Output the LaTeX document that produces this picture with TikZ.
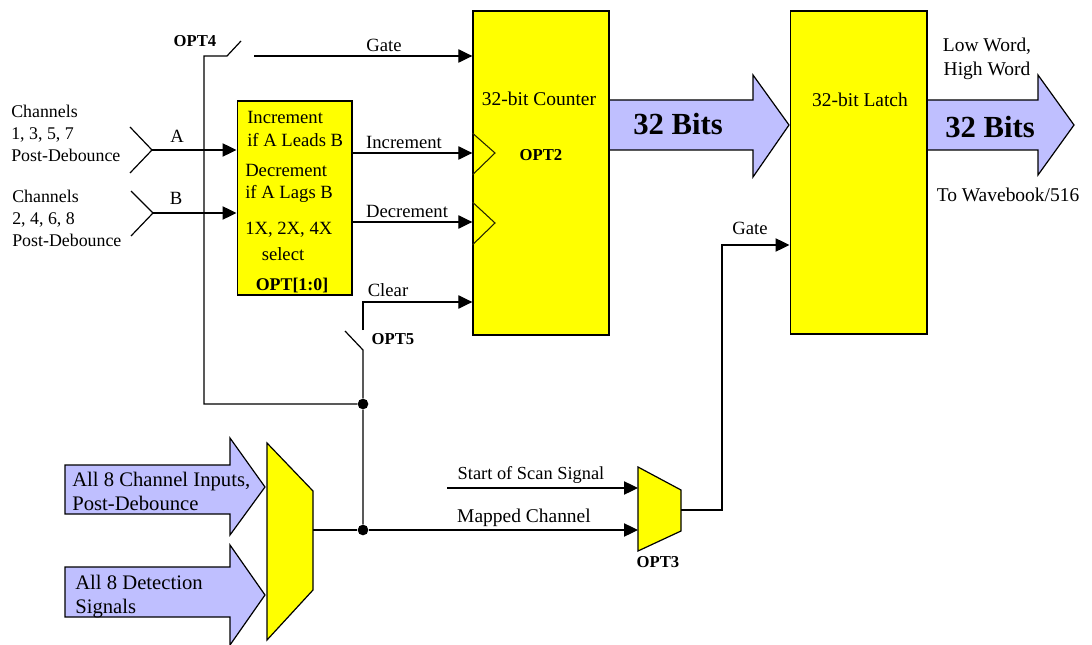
\documentclass[tikz,border=0pt]{standalone}
\usepackage{fontspec}
\setmainfont{Liberation Serif}
\usepackage{tikz}
\usetikzlibrary{arrows.meta,positioning,calc}
\definecolor{busblue}{HTML}{BFBFFF}
\definecolor{blockyellow}{HTML}{FFFF00}

\begin{document}
\begin{tikzpicture}[
    x=0.75pt, y=-0.75pt,
    block/.style={draw, line width=1pt, fill=blockyellow, inner sep=0pt},
    wire/.style={line width=0.9pt, -{Triangle[length=10.5pt,width=10pt]}},
    line/.style={line width=0.9pt},
    bus/.style={draw, line width=0.9pt, fill=busblue},
    mux/.style={draw, line width=0.9pt, fill=blockyellow},
    dot/.style={circle, fill=black, inner sep=0pt, minimum size=8pt},
    lbl/.style={inner sep=0pt, font=\fontsize{14}{16.5}\selectfont},
    lblc/.style={inner sep=0pt, font=\fontsize{13.4}{16.5}\selectfont},
    lblw/.style={inner sep=0pt, font=\fontsize{14.6}{18}\selectfont},
    lblbig/.style={inner sep=0pt, font=\fontsize{15.5}{18}\selectfont},
    lblb/.style={inner sep=0pt, font=\fontsize{12.5}{15}\selectfont\bfseries},
    bits/.style={inner sep=0pt, font=\fontsize{23}{26}\selectfont\bfseries}
  ]
  \useasboundingbox (0,0) rectangle (1092,645);

  % wide arrows go first, the blocks sit on their ends
  \draw[bus] (609,100) -- (753,100) -- (753,75) -- (789,125) -- (753,177) -- (753,150) -- (609,150) -- cycle;
  \draw[bus] (927,100) -- (1038,100) -- (1038,75) -- (1074,125) -- (1038,175) -- (1038,150) -- (927,150) -- cycle;
  \draw[bus] (65,465) -- (230,465) -- (230,438) -- (265,487) -- (230,535) -- (230,514) -- (65,514) -- cycle;
  \draw[bus] (65,567) -- (230,567) -- (230,545) -- (265,595) -- (230,645) -- (230,617) -- (65,617) -- cycle;

  \node[block, minimum width=102pt, minimum height=243pt] (counter) at (541,173) {};
  \node[block, minimum width=102.5pt, minimum height=242pt] (latch) at (858.5,172.5) {};
  \node[block, minimum width=86pt, minimum height=145.5pt] (quad) at (294.5,198) {};

  % muxes
  \draw[mux] (267,443) -- (313,491) -- (313,590) -- (267,640) -- cycle;
  \draw[mux] (638,467) -- (681,490) -- (681,531) -- (638,551) -- cycle;
  \coordinate (muxout) at (313,530);
  \coordinate (selout) at (681,510);

  % clock marks on the counter
  \draw[line width=0.8pt, draw=black!85!blockyellow] (counter.west |- 0,133) -- (495,153) -- (counter.west |- 0,175);
  \draw[line width=0.8pt, draw=black!85!blockyellow] (counter.west |- 0,202) -- (495,223) -- (counter.west |- 0,245);

  % inputs
  \coordinate (forka) at (152,150);
  \coordinate (forkb) at (153,213);
  \draw[line] (130,127) -- (forka) -- (130,173);
  \draw[line] (131,191) -- (forkb) -- (131,236);
  \draw[wire] (forka) -- (quad.west |- forka);
  \draw[wire] (forkb) -- (quad.west |- forkb);

  % quadrature outputs
  \draw[wire] (quad.east |- 0,153) -- (counter.west |- 0,153);
  \draw[wire] (quad.east |- 0,222) -- (counter.west |- 0,222);

  \node[dot] (jgate) at (363,404) {};
  \node[dot] (jsel) at (363,530) {};

  % OPT4 switch
  \coordinate (swa) at (227,56);
  \coordinate (swb) at (241,41);
  \coordinate (swc) at (254,56);
  \draw[line] (jgate) -- (204,404) -- (204,56) -- (swa) -- (swb);
  \draw[wire] (swc) -- (counter.west |- swc);

  % OPT5 switch
  \coordinate (swd) at (363,350);
  \coordinate (swe) at (345,331);
  \coordinate (swf) at (363,330);
  \draw[line] (jsel) -- (jgate) -- (swd) -- (swe);
  \draw[wire] (swf) -- (363,302) -- (counter.west |- 0,302);

  % mux paths
  \coordinate (scan) at (447,488);
  \draw[line] (muxout) -- (jsel);
  \draw[wire] (jsel) -- (638,530);
  \draw[wire] (scan) -- (638,488);
  \draw[wire] (selout) -- (722,510) -- (722,245) -- (latch.west |- 0,245);

  \node[lblc, align=left, anchor=north west] (chodd) at (11,105) {Channels\\1, 3, 5, 7\\Post-Debounce};
  \node[lblc, align=left, anchor=north west] (cheven) at (12,190) {Channels\\2, 4, 6, 8\\Post-Debounce};
  \node[lbl] (la) at (177,136) {A};
  \node[lbl] (lb) at (176,198) {B};
  \node[lblb] (opt4) at (195,41) {OPT4};
  \node[lblb] (opt5) at (393,339) {OPT5};
  \node[lblb] (opt2) at (541,155) {OPT2};
  \node[lblb] (opt3) at (658,562) {OPT3};
  \node[lblb, font=\fontsize{13.4}{15}\selectfont\bfseries] (opt10) at (292,285) {OPT[1:0]};

  \node[lbl, anchor=west] (tinc) at (247,117) {Increment};
  \node[lbl, anchor=west] (tlead) at (247,140) {if A Leads B};
  \node[lbl, anchor=west] (tdec) at (245,170) {Decrement};
  \node[lbl, anchor=west] (tlag) at (245,194) {if A Lags B};
  \node[lbl, anchor=west] (tsel) at (245,230) {1X, 2X, 4X};
  \node[lbl] (tselb) at (283,254) {select};

  \node[lbl] (lgate) at (384,45) {Gate};
  \node[lbl] (linc) at (404,142) {Increment};
  \node[lbl] (ldec) at (407,211) {Decrement};
  \node[lbl] (lclr) at (388,290) {Clear};
  \node[lblw] (lcnt) at (539,99) {32-bit Counter};
  \node[lblw] (llat) at (860,100) {32-bit Latch};
  \node[bits] (bitsa) at (678,124) {32 Bits};
  \node[bits] (bitsb) at (990,127) {32 Bits};
  \node[lblw, align=center] (lword) at (987,59) {Low Word,\\High Word};
  \node[lblw] (lwave) at (1008,195) {To Wavebook/516};
  \node[lbl] (lgateb) at (750,228) {Gate};
  \node[lbl, font=\fontsize{13.8}{16.5}\selectfont] (lscan) at (531,475) {Start of Scan Signal};
  \node[lblw] (lmap) at (524,518) {Mapped Channel};
  \node[lblbig, align=left, anchor=west] (lall) at (72,491) {All 8 Channel Inputs,\\Post-Debounce};
  \node[lblbig, align=left, anchor=west] (ldet) at (75,597) {All 8 Detection\\Signals};
\end{tikzpicture}
\end{document}
